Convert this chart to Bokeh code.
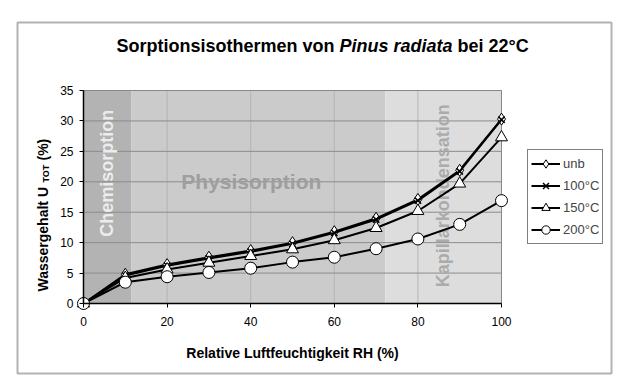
import math
from bokeh.plotting import figure
from bokeh.models import Range1d, Legend, LegendItem, Label, BoxAnnotation
from bokeh.embed import file_html
from bokeh.resources import INLINE
from bokeh.core.properties import value

# ---- data ----
rh = [0, 10, 20, 30, 40, 50, 60, 70, 80, 90, 100]
u_unb = [0, 4.8, 6.4, 7.6, 8.7, 10.0, 11.8, 14.0, 17.1, 21.9, 30.3]
u_100 = [0, 4.6, 6.2, 7.4, 8.5, 9.8, 11.6, 13.8, 16.9, 21.7, 30.2]
u_150 = [0, 4.2, 5.6, 6.7, 7.8, 8.9, 10.4, 12.4, 15.2, 19.7, 27.3]
u_200 = [0, 3.5, 4.4, 5.1, 5.8, 6.8, 7.6, 9.0, 10.6, 13.0, 16.9]
series_names = ["unb", "100°C", "150°C", "200°C"]

region_edges = [0, 11.5, 72.2, 100]
region_names = ["Chemisorption", "Physisorption", "Kapillarkondensation"]
region_colors = ["#b3b3b3", "#cbcbcb", "#dddddd"]

title_parts = ["Sorptionsisothermen von", "Pinus radiata", "bei 22°C"]
x_label = "Relative Luftfeuchtigkeit RH (%)"
y_label_parts = ["Wassergehalt U", "TOT", "(%)"]

x_ticks = [0, 20, 40, 60, 80, 100]
y_ticks = [0, 5, 10, 15, 20, 25, 30, 35]
x_min, x_max = 0, 100
y_min, y_max = 0, 35

FONT = "Liberation Sans"
W, H = 619, 384
# plot-area placement inside the canvas (pixels)
PL, PR, PT, PB = 83, 501, 90, 303
sx = (PR - PL) / (x_max - x_min)
sy = (PB - PT) / (y_max - y_min)

p = figure(width=W, height=H,
           x_range=Range1d(x_min - PL / sx, x_max + (W - PR) / sx),
           y_range=Range1d(y_min - (H - PB) / sy, y_max + PT / sy),
           output_backend="svg", toolbar_location=None, min_border=0)
p.background_fill_color = "white"
p.border_fill_color = "white"
p.outline_line_color = None
p.grid.visible = False

# background regions
p.quad(left=region_edges[:-1], right=region_edges[1:], bottom=y_min, top=y_max,
       fill_color=region_colors, line_color=None, level="image")

# grid lines from the tick lists
p.segment(x0=x_ticks, x1=x_ticks, y0=[y_min] * len(x_ticks), y1=[y_max] * len(x_ticks),
          line_color="#b4b4b4", line_width=1, level="underlay")
p.segment(x0=[x_min] * len(y_ticks), x1=[x_max] * len(y_ticks), y0=y_ticks, y1=y_ticks,
          line_color="#8c8c8c", line_width=1, level="underlay")
p.segment(x0=[x_max, x_min], x1=[x_max, x_max], y0=[y_min, y_max], y1=[y_max, y_max],
          line_color="#888888", line_width=1, level="underlay")

# region labels
p.text(x=[5.7], y=[21.4], text=[region_names[0]], angle=math.pi / 2,
       text_align="center", text_baseline="middle", text_font=value(FONT),
       text_font_style="bold", text_font_size="18px", text_color="#ececec",
       level="underlay")
p.text(x=[23.4], y=[20.0], text=[region_names[1]], angle=0,
       text_align="left", text_baseline="middle", text_font=value(FONT),
       text_font_style="bold", text_font_size="21px", text_color="#9e9e9e",
       level="underlay")
p.text(x=[86.1], y=[17.7], text=[region_names[2]], angle=math.pi / 2,
       text_align="center", text_baseline="middle", text_font=value(FONT),
       text_font_style="bold", text_font_size="18px", text_color="#ababab",
       level="underlay")

# axes at the data origin
p.xaxis.ticker = x_ticks
p.yaxis.ticker = y_ticks
p.xaxis.fixed_location = y_min
p.yaxis.fixed_location = x_min
p.xaxis.bounds = (x_min, x_max)
p.yaxis.bounds = (y_min, y_max)
for ax in (p.xaxis[0], p.yaxis[0]):
    ax.axis_line_color = "black"
    ax.axis_line_width = 1.5
    ax.major_tick_line_color = "black"
    ax.major_tick_in = 0
    ax.major_tick_out = 4
    ax.minor_tick_line_color = None
    ax.major_label_text_font = FONT
    ax.major_label_text_font_size = "12px"
    ax.major_label_text_color = "black"
p.xaxis.major_label_standoff = 9
p.yaxis.major_label_standoff = 6

# series
lw = 2
r1l = p.line(rh, u_unb, line_color="black", line_width=lw)
r1m = p.scatter(rh, u_unb, marker="diamond", size=12, fill_color="white",
                line_color="black", line_width=1)
r2l = p.line(rh, u_100, line_color="black", line_width=lw)
r2m = p.scatter(rh, u_100, marker="x", size=9, line_color="black", line_width=1.5)
r3l = p.line(rh, u_150, line_color="black", line_width=lw)
r3m = p.scatter(rh, u_150, marker="triangle", size=12, fill_color="white",
                line_color="black", line_width=1)
r4l = p.line(rh, u_200, line_color="black", line_width=lw)
r4m = p.scatter(rh, u_200, marker="circle", size=12, fill_color="white",
                line_color="black", line_width=1)

legend = Legend(items=[
    LegendItem(label=series_names[0], renderers=[r1l, r1m]),
    LegendItem(label=series_names[1], renderers=[r2l, r2m]),
    LegendItem(label=series_names[2], renderers=[r3l, r3m]),
    LegendItem(label=series_names[3], renderers=[r4l, r4m]),
], location=(527, 140), border_line_color="black", border_line_width=1,
    background_fill_color="white", background_fill_alpha=1,
    label_text_font=FONT, label_text_font_size="13px",
    glyph_width=29, glyph_height=21, label_height=21, spacing=1,
    padding=3, margin=0, label_standoff=3)
p.add_layout(legend)

# title pieces (screen px from canvas bottom-left)
tkw = dict(x_units="screen", y_units="screen", text_font=FONT,
           text_font_size="18px", text_color="black", text_baseline="middle",
           text_align="left")
p.add_layout(Label(x=116, y=339, text=title_parts[0], text_font_style="bold", **tkw))
p.add_layout(Label(x=339, y=339, text=title_parts[1], text_font_style="bold italic", **tkw))
p.add_layout(Label(x=457, y=339, text=title_parts[2], text_font_style="bold", **tkw))

# x axis label
p.add_layout(Label(x=292, y=32, x_units="screen", y_units="screen",
                   text=x_label, text_font=FONT, text_font_size="14px",
                   text_font_style="bold", text_align="center",
                   text_baseline="middle", text_color="black"))

# y axis label pieces
ykw = dict(x_units="screen", y_units="screen", text_font=FONT,
           text_font_style="bold", angle=math.pi / 2,
           text_align="left", text_baseline="middle", text_color="black")
p.add_layout(Label(x=42, y=93, text=y_label_parts[0], text_font_size="14px", **ykw))
p.add_layout(Label(x=45, y=202, text=y_label_parts[1], text_font_size="9px", **ykw))
p.add_layout(Label(x=42, y=224, text=y_label_parts[2], text_font_size="14px", **ykw))

# outer chart border
p.add_layout(BoxAnnotation(left=17, right=611, bottom=11, top=362,
                           left_units="screen", right_units="screen",
                           top_units="screen", bottom_units="screen",
                           fill_color=None, line_color="black", line_width=2))

open("out.html", "w").write(file_html(p, INLINE))
